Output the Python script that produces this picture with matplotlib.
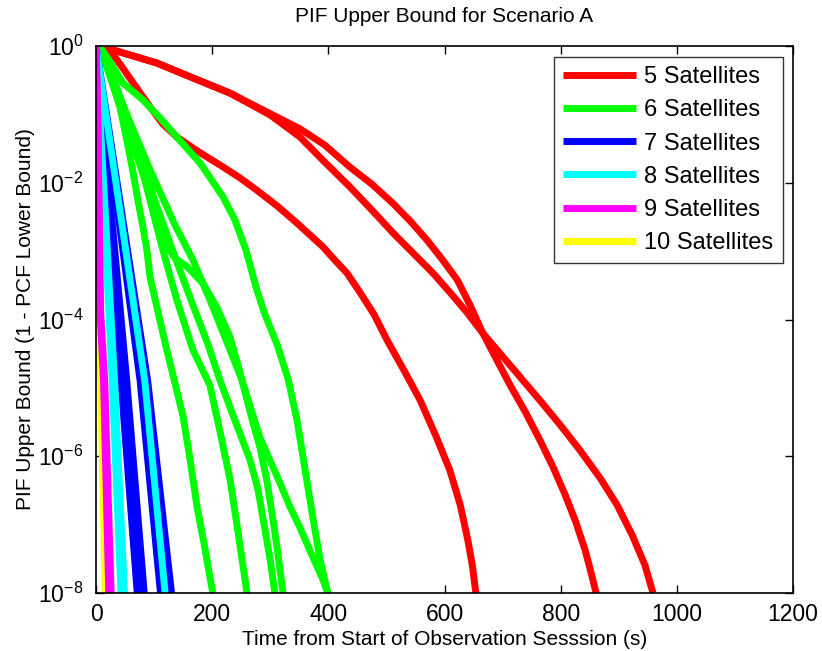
import matplotlib
matplotlib.use("Agg")
import matplotlib.pyplot as plt
import numpy as np

plt.rcParams['font.family'] = ['Liberation Sans', 'DejaVu Sans']
plt.rcParams['mathtext.fontset'] = 'custom'
plt.rcParams['mathtext.rm'] = 'Liberation Sans'
plt.rcParams['mathtext.it'] = 'Liberation Sans'

# ---- data: time (s) and log10 of PIF upper bound ----
# 5 satellites
sat5_a_t = [12, 24, 36, 64, 93, 115, 139, 179, 219, 248, 277, 312, 346, 368, 391, 411, 432, 455, 479, 501, 530, 558, 585, 609, 627, 640, 648, 654]
sat5_a_log = [-0.015, -0.09, -0.2, -0.54, -0.89, -1.14, -1.33, -1.56, -1.77, -1.93, -2.11, -2.34, -2.59, -2.76, -2.94, -3.13, -3.32, -3.61, -3.93, -4.30, -4.74, -5.18, -5.70, -6.2, -6.71, -7.22, -7.6, -8.0]
sat5_b_t = [12, 58, 105, 162, 231, 300, 351, 394, 437, 475, 511, 541, 570, 596, 622, 644, 666, 690, 713, 739, 764, 787, 808, 826, 842, 852, 861]
sat5_b_log = [-0.015, -0.13, -0.25, -0.45, -0.69, -0.99, -1.21, -1.45, -1.77, -2.02, -2.30, -2.56, -2.84, -3.12, -3.42, -3.79, -4.20, -4.59, -4.96, -5.35, -5.76, -6.16, -6.57, -6.96, -7.37, -7.69, -8.0]
sat5_c_t = [12, 58, 105, 162, 231, 300, 351, 394, 437, 475, 511, 546, 580, 610, 639, 666, 696, 730, 764, 799, 833, 868, 897, 923, 945, 959]
sat5_c_log = [-0.015, -0.13, -0.25, -0.45, -0.69, -1.01, -1.33, -1.70, -2.06, -2.40, -2.73, -3.03, -3.32, -3.61, -3.90, -4.20, -4.50, -4.84, -5.18, -5.54, -5.91, -6.32, -6.71, -7.15, -7.59, -8.0]

# 6 satellites
sat6_a_t = [7, 24, 41, 53, 64, 72, 81, 88, 93, 107, 122, 136, 150, 162, 174, 188, 201]
sat6_a_log = [-0.015, -0.42, -0.89, -1.37, -1.86, -2.25, -2.65, -3.01, -3.38, -3.90, -4.45, -4.93, -5.42, -6.05, -6.74, -7.37, -8.0]
sat6_b_t = [7, 50, 84, 115, 139, 167, 196, 213, 231, 244, 260]
sat6_b_log = [-0.015, -1.08, -1.96, -2.98, -3.71, -4.45, -4.96, -5.62, -6.35, -7.08, -8.0]
sat6_c_t = [7, 24, 50, 76, 96, 115, 136, 157, 184, 208, 231, 253, 282, 312, 334, 351, 372, 391, 399]
sat6_c_log = [-0.015, -0.34, -0.94, -1.52, -2.11, -2.84, -3.10, -3.23, -3.47, -3.82, -4.26, -4.93, -5.72, -6.30, -6.74, -7.04, -7.45, -7.81, -8.0]
sat6_d_t = [7, 41, 76, 110, 141, 170, 193, 213, 239, 265, 279, 291, 300, 308]
sat6_d_log = [-0.015, -0.86, -1.67, -2.47, -3.20, -3.86, -4.37, -4.88, -5.47, -6.05, -6.49, -7.08, -7.52, -8.0]
sat6_e_t = [7, 50, 93, 136, 167, 196, 231, 251, 269, 282, 294, 303, 313, 322]
sat6_e_log = [-0.015, -0.94, -1.81, -2.62, -3.13, -3.71, -4.45, -4.88, -5.47, -5.86, -6.35, -6.83, -7.41, -8.0]
sat6_f_t = [7, 24, 46, 81, 110, 139, 179, 219, 239, 258, 277, 291, 312, 331, 346, 360, 374, 386, 399]
sat6_f_log = [-0.015, -0.23, -0.54, -0.79, -1.05, -1.33, -1.71, -2.21, -2.54, -2.98, -3.57, -3.93, -4.37, -4.88, -5.47, -6.2, -6.93, -7.52, -8.0]

# 7-10 satellites (nearly straight in log scale)
lin_log = [0, -4.9, -8]
sat7_t = [[0, 43, 71], [0, 48, 76], [0, 53, 83], [0, 76, 111], [0, 89, 130]]
sat8_t = [[0, 28, 43], [0, 32, 49], [0, 84, 119]]
sat9_t = [[0, 3, 8, 15, 26], [0, 3, 7, 13, 22]]
sat9_log = [0, -1, -3.9, -4.9, -8]
sat10_t = [[0, 0.5, 8, 16]]
sat10_log = [0, -3.6, -4.9, -8]

colors = {5: (1, 0, 0), 6: (0, 1, 0), 7: (0, 0, 1), 8: (0, 1, 1), 9: (1, 0, 1), 10: (1, 1, 0)}
labels = ['5 Satellites', '6 Satellites', '7 Satellites', '8 Satellites', '9 Satellites', '10 Satellites']
zorders = {5: 2, 6: 2.1, 7: 2.2, 8: 2.3, 9: 2.5, 10: 2.4}

fig = plt.figure(figsize=(8.22, 6.51), dpi=100)
ax = fig.add_axes([96/822, 58/651, 697/822, 547/651])
lw = 5

groups = {
    5: [(sat5_a_t, sat5_a_log), (sat5_b_t, sat5_b_log), (sat5_c_t, sat5_c_log)],
    6: [(sat6_a_t, sat6_a_log), (sat6_b_t, sat6_b_log), (sat6_c_t, sat6_c_log),
        (sat6_d_t, sat6_d_log), (sat6_e_t, sat6_e_log), (sat6_f_t, sat6_f_log)],
    7: [(t, lin_log) for t in sat7_t],
    8: [(t, lin_log) for t in sat8_t],
    9: [(t, sat9_log) for t in sat9_t],
    10: [(t, sat10_log) for t in sat10_t],
}
handles = []
for n, lab in zip([5, 6, 7, 8, 9, 10], labels):
    for i, (t, lg) in enumerate(groups[n]):
        h, = ax.plot(t, 10.0 ** np.array(lg), color=colors[n], lw=lw,
                     label=lab if i == 0 else None, solid_capstyle='butt',
                     solid_joinstyle='round', zorder=zorders[n])
        if i == 0:
            handles.append(h)

ax.set_yscale('log')
ax.set_xlim(0, 1200)
ax.set_ylim(1e-8, 1)
ax.set_xticks([0, 200, 400, 600, 800, 1000, 1200])
ax.set_yticks([1e-8, 1e-6, 1e-4, 1e-2, 1e0])
ax.yaxis.set_minor_locator(matplotlib.ticker.NullLocator())
ax.tick_params(direction='in', top=True, right=True, length=6, width=1, labelsize=16.5)
ax.tick_params(axis='y', pad=9)
ax.tick_params(axis='x', pad=7)
for s in ax.spines.values():
    s.set_linewidth(1.2)

ax.set_title('PIF Upper Bound for Scenario A', fontsize=15, pad=17)
ax.set_xlabel('Time from Start of Observation Sesssion (s)', fontsize=15, labelpad=3)
ax.set_ylabel('PIF Upper Bound (1 - PCF Lower Bound)', fontsize=15, labelpad=2)

leg = ax.legend(handles=handles, loc='upper right', bbox_to_anchor=(0.9857, 0.98),
                borderaxespad=0, fontsize=17, frameon=True, fancybox=False,
                edgecolor='black', handlelength=3.1, handletextpad=0.35,
                labelspacing=0.47, borderpad=0.4)
leg.get_frame().set_linewidth(1.0)

fig.savefig('out.png', dpi=100)
